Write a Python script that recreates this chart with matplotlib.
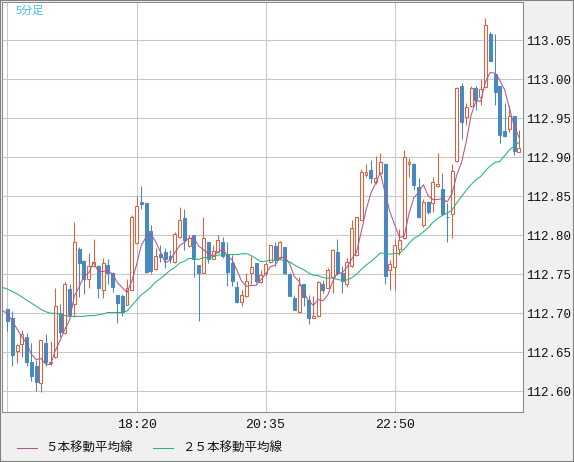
import numpy as np
import pandas as pd
import matplotlib
matplotlib.use('Agg')
import matplotlib.pyplot as plt
from matplotlib.lines import Line2D
from matplotlib.patches import Rectangle

plt.rcParams['font.family'] = ['Noto Sans CJK JP', 'DejaVu Sans']

# 5-minute USD/JPY candles, 16:05 onwards (one per 5 min)
opens = [112.705, 112.694, 112.651, 112.661, 112.670, 112.638, 112.633, 112.611, 112.662, 112.636,
         112.644, 112.700, 112.675, 112.731, 112.712, 112.783, 112.767, 112.744, 112.760, 112.760,
         112.730, 112.762, 112.752, 112.723, 112.722, 112.711, 112.730, 112.790, 112.843, 112.841,
         112.805, 112.757, 112.776, 112.778, 112.774, 112.766, 112.798, 112.822, 112.786, 112.800,
         112.762, 112.752, 112.792, 112.770, 112.778, 112.791, 112.776, 112.765, 112.734, 112.714,
         112.722, 112.752, 112.765, 112.740, 112.751, 112.766, 112.786, 112.771, 112.785, 112.750,
         112.720, 112.701, 112.737, 112.717, 112.694, 112.696, 112.738, 112.733, 112.747, 112.779,
         112.751, 112.737, 112.760, 112.775, 112.820, 112.877, 112.884, 112.868, 112.880, 112.892,
         112.755, 112.759, 112.783, 112.796, 112.891, 112.892, 112.862, 112.813, 112.843, 112.841,
         112.863, 112.859, 112.824, 112.827, 112.895, 112.992, 112.952, 112.966, 112.989, 112.977,
         112.990, 113.058, 113.007, 112.992, 112.934, 112.936, 112.953, 112.907]
highs = [112.706, 112.703, 112.661, 112.678, 112.675, 112.662, 112.640, 112.666, 112.673, 112.665,
         112.733, 112.712, 112.740, 112.738, 112.817, 112.785, 112.768, 112.777, 112.795, 112.762,
         112.771, 112.770, 112.753, 112.724, 112.725, 112.744, 112.826, 112.850, 112.863, 112.841,
         112.813, 112.784, 112.787, 112.784, 112.781, 112.804, 112.836, 112.834, 112.800, 112.800,
         112.762, 112.824, 112.792, 112.787, 112.800, 112.798, 112.791, 112.775, 112.741, 112.730,
         112.752, 112.773, 112.765, 112.756, 112.766, 112.788, 112.791, 112.793, 112.785, 112.751,
         112.723, 112.747, 112.738, 112.723, 112.722, 112.741, 112.743, 112.758, 112.782, 112.795,
         112.760, 112.771, 112.820, 112.824, 112.885, 112.891, 112.897, 112.902, 112.905, 112.893,
         112.768, 112.795, 112.808, 112.909, 112.899, 112.893, 112.873, 112.847, 112.844, 112.875,
         112.906, 112.880, 112.841, 112.892, 112.990, 112.995, 112.969, 112.991, 112.992, 113.001,
         113.079, 113.061, 113.058, 112.992, 112.969, 112.967, 112.953, 112.935]
lows = [112.677, 112.632, 112.636, 112.644, 112.633, 112.613, 112.600, 112.599, 112.633, 112.634,
        112.643, 112.670, 112.674, 112.695, 112.695, 112.721, 112.725, 112.732, 112.759, 112.720,
        112.720, 112.738, 112.727, 112.688, 112.697, 112.710, 112.730, 112.789, 112.834, 112.752,
        112.751, 112.756, 112.766, 112.758, 112.765, 112.765, 112.796, 112.781, 112.785, 112.746,
        112.690, 112.752, 112.764, 112.769, 112.777, 112.771, 112.735, 112.735, 112.713, 112.709,
        112.721, 112.737, 112.739, 112.739, 112.748, 112.765, 112.761, 112.770, 112.750, 112.722,
        112.704, 112.700, 112.709, 112.686, 112.694, 112.695, 112.726, 112.732, 112.726, 112.749,
        112.726, 112.734, 112.759, 112.774, 112.819, 112.875, 112.867, 112.866, 112.878, 112.738,
        112.730, 112.730, 112.775, 112.795, 112.875, 112.858, 112.822, 112.811, 112.827, 112.830,
        112.862, 112.826, 112.791, 112.797, 112.894, 112.924, 112.941, 112.965, 112.961, 112.967,
        112.989, 113.024, 112.967, 112.918, 112.926, 112.932, 112.903, 112.907]
closes = [112.690, 112.647, 112.659, 112.674, 112.638, 112.620, 112.612, 112.666, 112.637, 112.637,
          112.709, 112.676, 112.738, 112.698, 112.792, 112.765, 112.744, 112.760, 112.766, 112.733,
          112.765, 112.751, 112.734, 112.713, 112.702, 112.733, 112.824, 112.838, 112.840, 112.753,
          112.754, 112.774, 112.772, 112.770, 112.770, 112.802, 112.819, 112.794, 112.797, 112.769,
          112.752, 112.796, 112.769, 112.780, 112.794, 112.773, 112.753, 112.741, 112.714, 112.724,
          112.741, 112.759, 112.741, 112.749, 112.763, 112.787, 112.768, 112.791, 112.751, 112.722,
          112.704, 112.736, 112.721, 112.694, 112.696, 112.740, 112.730, 112.756, 112.781, 112.751,
          112.741, 112.766, 112.809, 112.823, 112.881, 112.881, 112.873, 112.874, 112.894, 112.748,
          112.763, 112.788, 112.794, 112.900, 112.894, 112.864, 112.823, 112.843, 112.830, 112.868,
          112.866, 112.827, 112.823, 112.883, 112.989, 112.945, 112.964, 112.989, 112.974, 112.988,
          113.069, 113.024, 112.984, 112.929, 112.927, 112.953, 112.908, 112.912]

# moving average values before enough candles are on screen (from candle -1)
ma5_head = [112.703, 112.700, 112.690, 112.680, 112.670]
ma25_head = [112.733, 112.731, 112.728, 112.725, 112.721, 112.717, 112.713, 112.709, 112.705, 112.702,
             112.700, 112.700, 112.699, 112.697, 112.696, 112.696, 112.696, 112.696, 112.697, 112.697,
             112.698, 112.699, 112.701, 112.701, 112.701]

y_ticks = [112.60, 112.65, 112.70, 112.75, 112.80, 112.85, 112.90, 112.95, 113.00, 113.05]
x_tick_pos = [0, 27, 54, 81]
x_tick_labels = ['', '18:20', '20:35', '22:50']

RED = '#e0603c'
BLUE = '#4a88c0'
PURPLE = '#b0568c'
GREEN = '#26b374'

o = np.array(opens)
h = np.array(highs)
l = np.array(lows)
c = np.array(closes)
idx = np.arange(len(c))
up = c >= o

s = pd.Series(c)
ma5 = s.rolling(5).mean().to_numpy()
ma25 = s.rolling(25).mean().to_numpy()
ma5_x = np.concatenate([np.arange(-1, 4), idx[4:]])
ma5_y = np.concatenate([ma5_head, ma5[4:]])
ma25_x = np.concatenate([np.arange(-1, 24), idx[24:]])
ma25_y = np.concatenate([ma25_head, ma25[24:]])

W, H = 574, 462
fig = plt.figure(figsize=(W / 100, H / 100), dpi=100, facecolor='#f0f0f0')
ax = fig.add_axes([2 / W, 50 / H, 521 / W, 410 / H])
ax.set_facecolor('white')

# wicks then bodies
ax.vlines(idx, l, h, colors=[RED if u else BLUE for u in up], linewidth=0.75, zorder=2)
body_lo = np.minimum(o, c)
body_h = np.maximum(np.abs(c - o), 0.0004)
ax.bar(idx[up], body_h[up], bottom=body_lo[up], width=0.62, facecolor='white',
       edgecolor=RED, linewidth=0.75, zorder=3)
ax.bar(idx[~up], body_h[~up], bottom=body_lo[~up], width=0.62, facecolor=BLUE,
       edgecolor=BLUE, linewidth=0.75, zorder=3)

ax.plot(ma25_x, ma25_y, color=GREEN, linewidth=0.75, zorder=4)
ax.plot(ma5_x, ma5_y, color=PURPLE, linewidth=0.75, zorder=5)

ax.set_xlim(-1.15, 107.85)
ax.set_ylim(112.5734, 113.0991)

ax.set_yticks(y_ticks)
ax.set_yticklabels(['%.2f' % v for v in y_ticks])
ax.set_xticks(x_tick_pos)
ax.set_xticklabels(x_tick_labels)
ax.yaxis.tick_right()
ax.tick_params(axis='y', length=0, pad=2.5, labelsize=9, labelcolor='#111111')
ax.tick_params(axis='x', length=0, pad=5, labelsize=9.5, labelcolor='#111111')
for lbl in ax.get_yticklabels() + ax.get_xticklabels():
    lbl.set_fontfamily('Liberation Mono')
ax.grid(True, color='#c8c8c8', linewidth=0.75)
ax.set_axisbelow(True)
for sp in ax.spines.values():
    sp.set_color('#8a8a8a')
    sp.set_linewidth(0.75)

ax.text(14 / 521, 1 - 9 / 410, '5分足', transform=ax.transAxes, color='#3dbdf0',
        fontsize=8, ha='left', va='center')

# legend along the bottom
ly = 1 - 448 / H
fig.add_artist(Line2D([16.5 / W, 36.6 / W], [ly, ly], color=PURPLE, linewidth=0.75))
fig.text(45.5 / W, ly, '５本移動平均線', fontsize=9, va='center', ha='left', color='#111111')
fig.add_artist(Line2D([153 / W, 173 / W], [ly, ly], color=GREEN, linewidth=0.75))
fig.text(182 / W, ly, '２５本移動平均線', fontsize=9, va='center', ha='left', color='#111111')

fig.add_artist(Rectangle((0, 0), 1, 1, transform=fig.transFigure, fill=False,
                         edgecolor='#808080', linewidth=1.5))

fig.savefig('out.png', dpi=100, facecolor=fig.get_facecolor())
